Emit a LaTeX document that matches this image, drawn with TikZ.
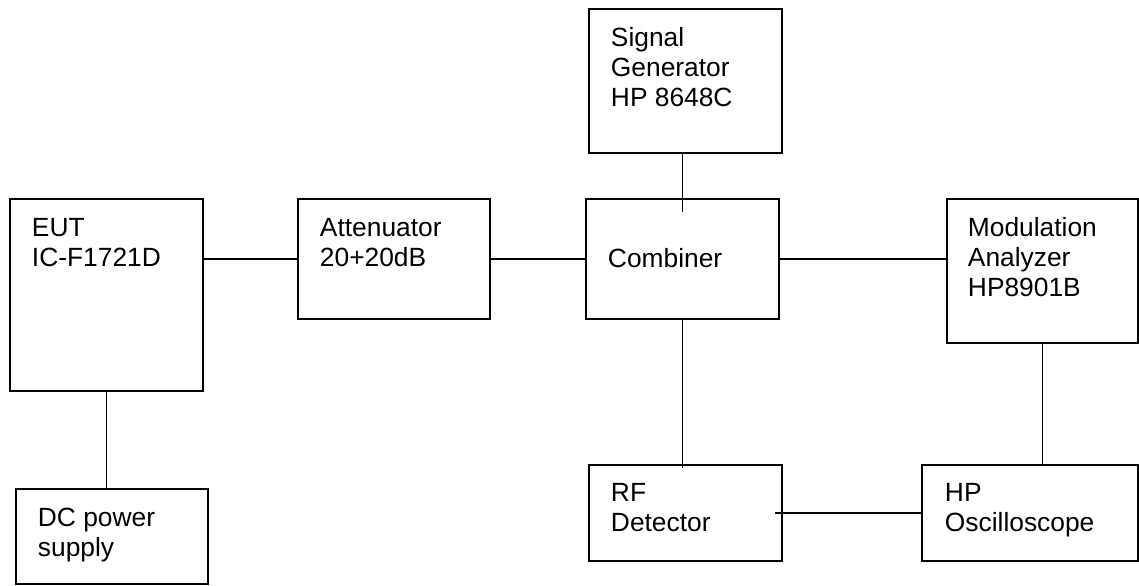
\documentclass[tikz,border=0pt]{standalone}
\usepackage{fontspec}
\setmainfont{Liberation Sans}
\begin{document}
\begin{tikzpicture}[x=0.02cm,y=-0.02cm,line width=1.1pt,
  box/.style={draw,inner sep=0pt,outer sep=0pt,anchor=north west},
  lbl/.style={anchor=north west,inner sep=0pt,align=left,font=\fontsize{15pt}{17.1pt}\selectfont}]
\useasboundingbox (0,0) rectangle (1139,585);
\node[box,minimum width=3.86cm,minimum height=3.84cm] (eut) at (10,199) {};
\node[box,minimum width=3.84cm,minimum height=1.9cm] (dc) at (16,489) {};
\node[box,minimum width=3.84cm,minimum height=2.4cm] (att) at (298,199) {};
\node[box,minimum width=3.86cm,minimum height=2.88cm] (sg) at (589,9) {};
\node[box,minimum width=3.86cm,minimum height=2.4cm] (comb) at (586,199) {};
\node[box,minimum width=3.82cm,minimum height=2.88cm] (mod) at (947,199) {};
\node[box,minimum width=3.86cm,minimum height=1.92cm] (rf) at (589,465) {};
\node[box,minimum width=4.32cm,minimum height=1.92cm] (osc) at (922,465) {};
\node[lbl] (euttext) at ([shift={(21,18)}]eut.north west) {EUT\\IC-F1721D};
\node[lbl] (dctext) at ([shift={(21,18)}]dc.north west) {DC power\\supply};
\node[lbl] (atttext) at ([shift={(21,18)}]att.north west) {Attenuator\\20+20dB};
\node[lbl] (sgtext) at ([shift={(21,17)}]sg.north west) {Signal\\Generator\\HP 8648C};
\node[lbl] (combtext) at ([shift={(21,48)}]comb.north west) {Combiner};
\node[lbl] (modtext) at ([shift={(20,17)}]mod.north west) {Modulation\\Analyzer\\HP8901B};
\node[lbl] (rftext) at ([shift={(21,17)}]rf.north west) {RF\\Detector};
\node[lbl] (osctext) at ([shift={(22,17)}]osc.north west) {HP\\Oscilloscope};
\coordinate (sgtap) at ([shift={(0,13)}]comb.north);
\draw (att.west -| eut.east) -- (att.west);
\draw (eut.south) -- (eut.south |- dc.north);
\draw (att.east) -- (comb.west);
\draw (sgtap |- sg.south) -- (sgtap);
\draw (comb.east) -- (comb.east -| mod.west);
\draw (comb.south) -- ([shift={(0,3)}]comb.south |- rf.north);
\draw (mod.south) -- (mod.south |- osc.north);
\draw ([shift={(-7,0)}]rf.east) -- (osc.west);
\end{tikzpicture}
\end{document}
